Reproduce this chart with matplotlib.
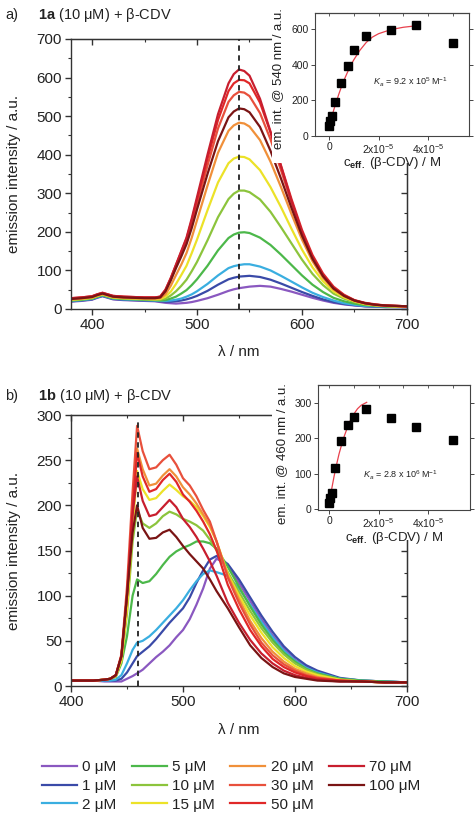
import matplotlib
matplotlib.use("Agg")
import matplotlib.pyplot as plt
from matplotlib.patches import Rectangle
from matplotlib.ticker import MultipleLocator, FixedLocator

plt.rcParams['font.family'] = ['Liberation Sans', 'DejaVu Sans']
plt.rcParams['mathtext.fontset'] = 'custom'
plt.rcParams['mathtext.rm'] = 'Liberation Sans'
plt.rcParams['mathtext.it'] = 'Liberation Sans:italic'
plt.rcParams['mathtext.bf'] = 'Liberation Sans:bold'

# ---------------- data ----------------
conc_labels = ['0 μM', '1 μM', '2 μM', '5 μM', '10 μM', '15 μM', '20 μM', '30 μM', '50 μM', '70 μM', '100 μM']
colors = ['#8a58c0', '#3a4aa8', '#3aaee0', '#4cb84a', '#8cc43c', '#ece228',
          '#f0903a', '#e8503c', '#e02828', '#c81e2e', '#7a1414']

# panel a: wavelength grid (nm)
wl_a = [380, 390, 400, 405, 410, 415, 420, 430, 440, 450, 460, 465, 470, 475, 480, 485, 490, 495,
        500, 510, 520, 530, 535, 540, 545, 550, 560, 570, 580, 590, 600, 610, 620, 630, 640, 650, 660, 670,
        680, 690, 700]
a_0 = [19, 21, 24, 29, 33, 29, 25, 23, 22, 21, 20, 18, 16, 15, 14, 15, 16, 18, 21, 28, 37, 47, 51, 54,
       56, 58, 60, 58, 52, 45, 37, 29, 22, 16, 12, 9, 7, 6, 5, 5, 5]
a_1 = [20, 22, 25, 30, 34, 30, 26, 24, 23, 22, 21, 20, 19, 19, 20, 22, 25, 29, 34, 47, 63, 77, 81, 84,
       85, 86, 83, 76, 66, 55, 44, 34, 25, 18, 13, 10, 7, 6, 5, 5, 5]
a_2 = [21, 23, 26, 31, 35, 31, 27, 25, 24, 23, 22, 21, 21, 22, 24, 27, 32, 38, 46, 65, 87, 106, 111, 114,
       116, 116, 110, 100, 86, 71, 56, 42, 31, 22, 15, 11, 8, 7, 6, 5, 5]
a_5 = [22, 24, 27, 32, 36, 32, 28, 26, 25, 24, 23, 22, 23, 27, 32, 40, 49, 62, 77, 112, 152, 184, 193, 198,
       199, 197, 185, 166, 141, 114, 87, 63, 44, 29, 20, 14, 10, 8, 7, 6, 6]
a_10 = [23, 25, 28, 33, 37, 33, 29, 27, 26, 25, 24, 24, 27, 35, 46, 60, 76, 98, 122, 178, 238, 285, 299, 307,
        307, 303, 284, 252, 212, 170, 128, 91, 62, 40, 27, 18, 12, 9, 7, 6, 6]
a_15 = [24, 26, 29, 34, 38, 34, 30, 28, 27, 26, 25, 26, 32, 45, 65, 88, 112, 145, 180, 256, 328, 378, 390, 395,
        394, 388, 360, 316, 264, 208, 154, 108, 72, 46, 30, 20, 13, 10, 8, 7, 6]
a_20 = [25, 27, 30, 35, 39, 35, 31, 29, 28, 27, 27, 28, 38, 60, 88, 115, 145, 185, 230, 320, 405, 462, 476, 483,
        481, 473, 438, 382, 316, 246, 180, 124, 81, 51, 33, 21, 14, 10, 8, 7, 6]
a_30 = [27, 29, 32, 37, 41, 37, 33, 31, 30, 29, 29, 31, 47, 76, 110, 142, 175, 220, 272, 372, 468, 537, 554, 563,
        561, 552, 508, 440, 360, 276, 198, 135, 88, 55, 35, 22, 15, 11, 9, 8, 7]
a_50 = [28, 30, 33, 38, 42, 38, 34, 32, 31, 30, 30, 32, 50, 80, 114, 148, 182, 230, 283, 390, 490, 565, 585, 594,
        593, 585, 535, 458, 372, 285, 205, 140, 92, 58, 37, 23, 16, 12, 9, 8, 7]
a_70 = [28, 30, 33, 38, 42, 38, 34, 32, 31, 30, 30, 32, 50, 80, 115, 150, 185, 235, 290, 400, 505, 585, 609, 621,
        617, 605, 545, 460, 370, 280, 200, 135, 88, 55, 35, 22, 15, 11, 9, 8, 7]
a_100 = [26, 28, 31, 36, 40, 36, 32, 30, 29, 28, 28, 30, 46, 74, 106, 136, 168, 210, 258, 350, 435, 497, 512, 520,
         518, 510, 472, 410, 338, 262, 190, 130, 85, 53, 34, 22, 15, 11, 9, 8, 7]

# panel b: wavelength grid (nm)
wl_b = [400, 410, 420, 430, 435, 440, 445, 450, 455, 459, 464, 470, 476, 482, 488, 494, 500, 506, 512,
        518, 524, 530, 540, 550, 560, 570, 580, 590, 600, 610, 620, 640, 660, 680, 700]
b_0 = [6, 6, 6, 5, 5, 5, 5, 8, 11, 14, 18, 25, 32, 38, 45, 54, 62, 74, 90, 108, 130, 141, 134,
       114, 94, 74, 56, 41, 29, 21, 15, 8, 6, 5, 4]
b_1 = [6, 6, 6, 6, 6, 6, 8, 15, 25, 33, 38, 44, 52, 61, 70, 78, 86, 98, 114, 128, 140, 144, 135,
       118, 98, 78, 60, 44, 32, 23, 17, 9, 6, 5, 4]
b_2 = [6, 6, 6, 6, 6, 7, 12, 25, 40, 48, 50, 55, 62, 70, 78, 86, 95, 106, 116, 124, 128, 126, 122,
       108, 90, 71, 54, 39, 28, 20, 15, 8, 6, 5, 4]
b_5 = [6, 6, 6, 7, 8, 10, 25, 55, 100, 118, 114, 116, 124, 134, 143, 149, 153, 156, 160, 160, 158, 152, 132,
       110, 88, 68, 51, 37, 27, 19, 14, 8, 6, 5, 4]
b_10 = [6, 6, 6, 7, 8, 11, 28, 80, 160, 195, 180, 175, 180, 188, 193, 190, 185, 182, 178, 172, 162, 150, 126,
        104, 83, 64, 48, 35, 25, 18, 13, 7, 5, 4, 4]
b_15 = [6, 6, 6, 7, 8, 11, 28, 85, 175, 238, 218, 206, 208, 216, 223, 217, 210, 205, 198, 188, 176, 160, 124,
        100, 78, 59, 43, 31, 22, 16, 12, 7, 5, 4, 4]
b_20 = [6, 6, 6, 7, 8, 12, 33, 100, 195, 263, 240, 222, 224, 233, 240, 232, 220, 212, 202, 190, 178, 160, 122,
        96, 72, 53, 38, 27, 19, 14, 10, 6, 5, 4, 4]
b_30 = [6, 6, 6, 7, 8, 12, 35, 110, 215, 288, 260, 240, 242, 250, 256, 245, 230, 222, 210, 195, 182, 160, 120,
        92, 68, 48, 34, 24, 17, 12, 9, 6, 5, 4, 4]
b_50 = [6, 6, 6, 7, 8, 12, 33, 100, 195, 258, 232, 215, 218, 228, 235, 226, 212, 204, 194, 182, 168, 150, 112,
        85, 62, 44, 30, 21, 15, 11, 8, 6, 5, 4, 4]
b_70 = [6, 6, 6, 7, 8, 12, 33, 100, 190, 232, 205, 188, 190, 198, 206, 198, 185, 176, 165, 152, 138, 122, 92,
        70, 51, 36, 25, 17, 12, 9, 7, 5, 5, 4, 4]
b_100 = [6, 6, 6, 7, 8, 12, 33, 100, 170, 200, 175, 163, 164, 170, 173, 165, 155, 146, 138, 130, 118, 105, 86,
         65, 45, 31, 21, 14, 10, 8, 6, 5, 5, 4, 4]

# insets: effective beta-CDV concentration (M) and emission intensity
c_eff = [0, 0.05e-5, 0.1e-5, 0.25e-5, 0.5e-5, 0.75e-5, 1.0e-5, 1.5e-5, 2.5e-5, 3.5e-5, 5.0e-5]
int540_a = [55, 82, 110, 190, 300, 392, 480, 560, 592, 620, 520]
int460_b = [18, 30, 45, 117, 192, 236, 261, 283, 258, 230, 195]
fit_x_a = [0, 0.1e-5, 0.2e-5, 0.3e-5, 0.4e-5, 0.5e-5, 0.6e-5, 0.75e-5, 0.9e-5, 1.0e-5, 1.25e-5,
           1.5e-5, 1.75e-5, 2.0e-5, 2.5e-5, 3.0e-5, 3.5e-5]
fit_y_a = [55, 105, 152, 196, 238, 277, 313, 360, 403, 428, 482, 525, 555, 574, 597, 610, 618]
fit_x_b = [0, 0.1e-5, 0.2e-5, 0.3e-5, 0.4e-5, 0.5e-5, 0.6e-5, 0.75e-5, 0.9e-5, 1.0e-5, 1.15e-5,
           1.3e-5, 1.52e-5]
fit_y_b = [15, 55, 92, 125, 155, 180, 203, 232, 256, 268, 283, 293, 301]

spectra_a = [a_0, a_1, a_2, a_5, a_10, a_15, a_20, a_30, a_50, a_70, a_100]
spectra_b = [b_0, b_1, b_2, b_5, b_10, b_15, b_20, b_30, b_50, b_70, b_100]

# ---------------- figure ----------------
W, H = 477, 813
fig = plt.figure(figsize=(W / 100, H / 100), dpi=100)


def px_axes(x0, y0, x1, y1, **kw):
    return fig.add_axes([x0 / W, 1 - y1 / H, (x1 - x0) / W, (y1 - y0) / H], **kw)


def style_main(ax, xmaj, xmin, ymaj, ymin):
    for s in ax.spines.values():
        s.set_linewidth(1.0)
        s.set_color('#333333')
    ax.xaxis.set_major_locator(MultipleLocator(xmaj))
    ax.xaxis.set_minor_locator(MultipleLocator(xmin))
    ax.yaxis.set_major_locator(MultipleLocator(ymaj))
    ax.yaxis.set_minor_locator(MultipleLocator(ymin))
    ax.tick_params(which='both', direction='out', top=False, right=False, colors='#333333',
                   labelsize=11, labelcolor='#222222', pad=2.5)
    ax.tick_params(which='major', length=4, width=1)
    ax.tick_params(which='minor', length=2.5, width=0.8)
    ax2 = ax.secondary_xaxis('top')
    ax2.xaxis.set_major_locator(MultipleLocator(xmaj))
    ax2.xaxis.set_minor_locator(MultipleLocator(xmin))
    ax2.tick_params(which='both', direction='in', labeltop=False, colors='#333333')
    ax2.tick_params(which='major', length=4, width=1)
    ax2.tick_params(which='minor', length=2.5, width=0.8)
    ax3 = ax.secondary_yaxis('right')
    ax3.yaxis.set_major_locator(MultipleLocator(ymaj))
    ax3.yaxis.set_minor_locator(MultipleLocator(ymin))
    ax3.tick_params(which='both', direction='in', labelright=False, colors='#333333')
    ax3.tick_params(which='major', length=4, width=1)
    ax3.tick_params(which='minor', length=2.5, width=0.8)


def style_inset(ax):
    for s in ax.spines.values():
        s.set_linewidth(0.8)
        s.set_color('#444444')
    ax.tick_params(which='both', direction='out', colors='#444444', labelsize=7.5,
                   labelcolor='#222222', pad=1.5)
    ax.tick_params(which='major', length=3, width=0.7)
    ax.tick_params(which='minor', length=0, width=0.6)
    ax.xaxis.set_major_locator(FixedLocator([0, 2e-5, 4e-5]))
    ax.set_xticklabels(['0', r'2x10$^{-5}$', r'4x10$^{-5}$'])
    t = ax.secondary_xaxis('top')
    t.xaxis.set_major_locator(MultipleLocator(1e-5))
    t.tick_params(direction='in', length=2.5, width=0.6, labeltop=False, colors='#444444')
    ax.tick_params(right=True, which='major', direction='out')


# ---- panel a ----
axa = px_axes(71, 39, 407, 309)
for y, c in zip(spectra_a, colors):
    axa.plot(wl_a, y, color=c, lw=1.6, solid_joinstyle='round')
axa.vlines(540, 0, 700, colors='#222222', linestyles=(0, (3, 2.5)), lw=1.3, zorder=5)
axa.set_xlim(380, 700)
axa.set_ylim(0, 700)
style_main(axa, 100, 50, 100, 50)
axa.set_ylabel('emission intensity / a.u.', fontsize=11, color='#222222')
axa.yaxis.set_label_coords(-0.15, 0.5)
axa.set_xlabel('λ / nm', fontsize=11, color='#222222')
axa.xaxis.set_label_coords(0.5, -0.135)

# ---- panel b ----
axb = px_axes(71, 415, 407, 686)
for y, c in zip(spectra_b, colors):
    axb.plot(wl_b, y, color=c, lw=1.6, solid_joinstyle='round')
axb.vlines(460, 0, 297, colors='#222222', linestyles=(0, (3, 2.5)), lw=1.3, zorder=5)
axb.set_xlim(400, 700)
axb.set_ylim(0, 300)
style_main(axb, 100, 50, 50, 25)
axb.set_ylabel('emission intensity / a.u.', fontsize=11, color='#222222')
axb.yaxis.set_label_coords(-0.15, 0.5)
axb.set_xlabel('λ / nm', fontsize=11, color='#222222')
axb.xaxis.set_label_coords(0.5, -0.137)

# white boxes behind insets (cover the main frame like the original)
for (x0, y0, x1, y1) in [(272, 0, 477, 163), (272, 370, 477, 540)]:
    fig.patches.append(Rectangle((x0 / W, 1 - y1 / H), (x1 - x0) / W, (y1 - y0) / H,
                                 transform=fig.transFigure, facecolor='white',
                                 edgecolor='none', zorder=1))

# ---- inset a ----
ia = px_axes(315, 13, 469, 136)
ia.set_zorder(3)
ia.plot(fit_x_a, fit_y_a, color='#e8404c', lw=0.9, zorder=2)
ia.plot(c_eff, int540_a, ls='none', marker='s', ms=5.5, color='black', zorder=3)
ia.set_xlim(-0.57e-5, 5.65e-5)
ia.set_ylim(0, 690)
ia.yaxis.set_major_locator(FixedLocator([0, 200, 400, 600]))
style_inset(ia)
ia.set_ylabel('em. int. @ 540 nm / a.u.', fontsize=9.5, color='#222222')
ia.yaxis.set_label_coords(-0.2, 0.47)
ia.set_xlabel(r'c$_{\mathbf{eff.}}$ (β-CDV) / M', fontsize=9.5, color='#222222')
ia.xaxis.set_label_coords(0.5, -0.155)
ia.text(0.377, 0.437, r'$K_a$ = 9.2 x 10$^5$ M$^{-1}$', transform=ia.transAxes,
        fontsize=6.5, ha='left', va='center', color='#222222')

# ---- inset b ----
ib = px_axes(318, 385, 470, 510)
ib.set_zorder(3)
ib.plot(fit_x_b, fit_y_b, color='#e8404c', lw=0.9, zorder=2)
ib.plot(c_eff, int460_b, ls='none', marker='s', ms=5.5, color='black', zorder=3)
ib.set_xlim(-0.45e-5, 5.7e-5)
ib.set_ylim(-3, 350)
ib.yaxis.set_major_locator(FixedLocator([0, 100, 200, 300]))
style_inset(ib)
ib.set_ylabel('em. int. @ 460 nm / a.u.', fontsize=9.5, color='#222222')
ib.yaxis.set_label_coords(-0.2, 0.45)
ib.set_xlabel(r'c$_{\mathbf{eff.}}$ (β-CDV) / M', fontsize=9.5, color='#222222')
ib.xaxis.set_label_coords(0.5, -0.16)
ib.text(0.296, 0.28, r'$K_a$ = 2.8 x 10$^6$ M$^{-1}$', transform=ib.transAxes,
        fontsize=6.5, ha='left', va='center', color='#222222')

# ---- titles ----
fig.text(5 / W, 1 - 15 / H, 'a)', fontsize=10.5, va='center', ha='left', color='#222222')
fig.text(38 / W, 1 - 15 / H, r'$\mathbf{1a}$ (10 μM) + β-CDV', fontsize=10.5, va='center', ha='left',
         color='#222222')
fig.text(5 / W, 1 - 396 / H, 'b)', fontsize=10.5, va='center', ha='left', color='#222222')
fig.text(38 / W, 1 - 396 / H, r'$\mathbf{1b}$ (10 μM) + β-CDV', fontsize=10.5, va='center', ha='left',
         color='#222222')

# ---- legend ----
handles = [plt.Line2D([], [], color=c, lw=1.6) for c in colors]
leg = fig.legend(handles, conc_labels, loc='center', bbox_to_anchor=(231 / W, 1 - 786 / H),
                 ncol=4, frameon=False, fontsize=11, handlelength=2.3, handletextpad=0.35,
                 columnspacing=1.0, labelspacing=0.3, borderpad=0)
for t in leg.get_texts():
    t.set_color('#222222')

fig.savefig('out.png', dpi=100, facecolor='white')
